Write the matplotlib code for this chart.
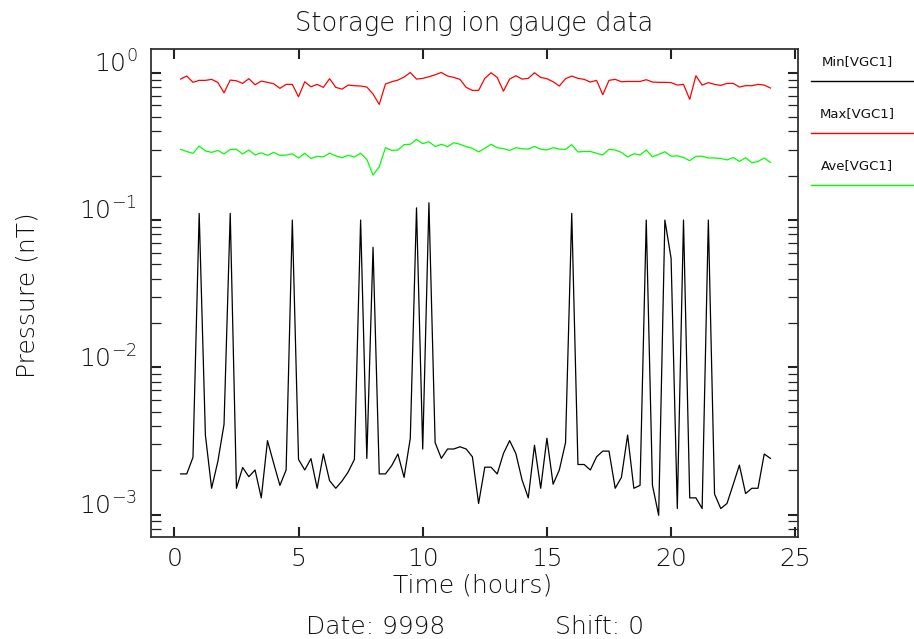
import numpy as np
import matplotlib
matplotlib.use("Agg")
import matplotlib.pyplot as plt
from matplotlib.lines import Line2D
from matplotlib.ticker import LogLocator, NullFormatter

plt.rcParams['font.family'] = ['DejaVu Sans']
plt.rcParams['font.weight'] = 'light'
plt.rcParams['axes.labelweight'] = 'light'

# gauge readings every 15 minutes (hours)
hours = np.arange(1, 97) * 0.25

min_vgc1 = [
    0.00189, 0.00189, 0.00245, 0.111, 0.00347, 0.00151, 0.00229, 0.0041,
    0.111, 0.00151, 0.00209, 0.00181, 0.00201, 0.0013, 0.00318, 0.00223,
    0.00158, 0.00201, 0.100, 0.00237, 0.00201, 0.0024, 0.00151, 0.00258,
    0.0017, 0.00151, 0.00169, 0.00195, 0.00237, 0.100, 0.00241, 0.0653,
    0.00189, 0.00189, 0.00215, 0.00258, 0.00179, 0.0033, 0.121, 0.00279,
    0.131, 0.00308, 0.00241, 0.00279, 0.00279, 0.00289, 0.00279, 0.00247,
    0.00119, 0.0021, 0.0021, 0.00189, 0.0026, 0.00318, 0.0026, 0.00172,
    0.0013, 0.00296, 0.00151, 0.0033, 0.00161, 0.00201, 0.00308, 0.111,
    0.00219, 0.00219, 0.00201, 0.00247, 0.0027, 0.0027, 0.00151, 0.00179,
    0.00347, 0.00151, 0.00158, 0.100, 0.00158, 0.00099, 0.100, 0.055,
    0.0011, 0.100, 0.0013, 0.0013, 0.0011, 0.100, 0.00138, 0.0011,
    0.00119, 0.0016, 0.00217, 0.00139, 0.00151, 0.00151, 0.00258, 0.00241,
]

max_vgc1 = [
    0.906, 0.950, 0.861, 0.888, 0.888, 0.902, 0.861, 0.731,
    0.892, 0.882, 0.847, 0.911, 0.829, 0.878, 0.861, 0.842,
    0.784, 0.834, 0.834, 0.687, 0.869, 0.803, 0.834, 0.796,
    0.911, 0.796, 0.774, 0.825, 0.817, 0.813, 0.800, 0.717,
    0.610, 0.838, 0.869, 0.892, 0.935, 1.005, 0.906, 0.916,
    0.940, 0.969, 1.005, 0.950, 0.930, 0.902, 0.796, 0.759,
    0.759, 0.916, 1.000, 0.930, 0.750, 0.906, 0.955, 0.906,
    0.916, 1.000, 0.930, 0.911, 0.869, 0.813, 0.911, 0.950,
    0.916, 0.902, 0.865, 0.888, 0.710, 0.888, 0.902, 0.869,
    0.873, 0.873, 0.873, 0.897, 0.865, 0.861, 0.861, 0.857,
    0.825, 0.834, 0.660, 0.955, 0.825, 0.857, 0.834, 0.821,
    0.847, 0.847, 0.800, 0.817, 0.817, 0.834, 0.825, 0.788,
]

ave_vgc1 = [
    0.302, 0.292, 0.284, 0.318, 0.295, 0.288, 0.297, 0.281,
    0.302, 0.302, 0.281, 0.299, 0.277, 0.286, 0.275, 0.288,
    0.275, 0.276, 0.282, 0.264, 0.284, 0.262, 0.271, 0.269,
    0.284, 0.273, 0.265, 0.275, 0.268, 0.284, 0.258, 0.202,
    0.230, 0.310, 0.297, 0.299, 0.325, 0.327, 0.353, 0.330,
    0.340, 0.316, 0.327, 0.315, 0.335, 0.327, 0.315, 0.307,
    0.290, 0.307, 0.327, 0.310, 0.305, 0.297, 0.310, 0.305,
    0.303, 0.316, 0.303, 0.299, 0.310, 0.303, 0.302, 0.325,
    0.290, 0.292, 0.292, 0.284, 0.277, 0.302, 0.299, 0.288,
    0.268, 0.282, 0.277, 0.299, 0.269, 0.279, 0.291, 0.271,
    0.273, 0.266, 0.253, 0.271, 0.271, 0.264, 0.264, 0.262,
    0.256, 0.266, 0.250, 0.265, 0.245, 0.250, 0.264, 0.246,
]

series = [min_vgc1, max_vgc1, ave_vgc1]
series_names = ['Min[VGC1]', 'Max[VGC1]', 'Ave[VGC1]']
series_colors = ['black', 'red', '#00ff00']

x_ticks = [0, 5, 10, 15, 20, 25]
y_ticks = [1e-3, 1e-2, 1e-1, 1e0]
y_tick_labels = [r'$\mathregular{10^{-3}}$', r'$\mathregular{10^{-2}}$',
                 r'$\mathregular{10^{-1}}$', r'$\mathregular{10^{0}}$']

date_str = '9998'
shift_str = '0'

W, H = 914, 639
fig = plt.figure(figsize=(W / 100, H / 100), dpi=100)
ax = fig.add_axes([151 / W, 1 - 537 / H, (798.5 - 151) / W, (537 - 49) / H])

for vals, col in zip(series, series_colors):
    ax.plot(hours, vals, color=col, lw=0.9)

ax.set_yscale('log')
ax.set_xlim(-0.94, 25.13)
ax.set_ylim(7.05e-4, 1.45)

ax.set_xticks(x_ticks, [str(v) for v in x_ticks])
ax.set_yticks(y_ticks, y_tick_labels, va='baseline')
ax.yaxis.set_minor_locator(LogLocator(base=10, subs=np.arange(2, 10)))
ax.yaxis.set_minor_formatter(NullFormatter())

ax.tick_params(which='both', direction='in', top=True, right=True,
               color='#222222', labelcolor='#111111', labelsize=18)
ax.tick_params(which='major', length=7.5, width=1.5)
ax.tick_params(which='minor', length=7.5, width=0.9)
ax.tick_params(axis='x', which='major', pad=7)
ax.tick_params(axis='y', which='major', pad=10)
for sp in ax.spines.values():
    sp.set_linewidth(1.3)
    sp.set_color('#333333')

ax.set_xlabel('Time (hours)', fontsize=18, fontweight='light',
              color='#111111', va='center')
ax.xaxis.set_label_coords(0.496, -0.100)
ax.set_ylabel('Pressure (nT)', fontsize=18, fontweight='light',
              color='#111111', va='center')
ax.yaxis.set_label_coords(-0.190, 0.496)

fig.text(474 / W, 1 - 31 / H, 'Storage ring ion gauge data', ha='center',
         va='baseline', fontsize=18.5, color='#111111')
fig.text(376 / W, 1 - 634 / H, 'Date: ' + date_str, ha='center',
         va='baseline', fontsize=18, color='#111111')
fig.text(600 / W, 1 - 634 / H, 'Shift: ' + shift_str, ha='center',
         va='baseline', fontsize=18, color='#111111')

# key on the right: name with a line sample underneath
for k, (name, col) in enumerate(zip(series_names, series_colors)):
    ty = 62 + 52 * k
    ly = 81 + 52 * k
    fig.text(857 / W, 1 - ty / H, name, ha='center', va='center',
             fontsize=9.5, fontweight='normal', color='#111111')
    fig.add_artist(Line2D([811 / W, 913 / W], [1 - ly / H, 1 - ly / H],
                          transform=fig.transFigure, color=col, lw=1.0))

fig.savefig('out.png', dpi=100)
